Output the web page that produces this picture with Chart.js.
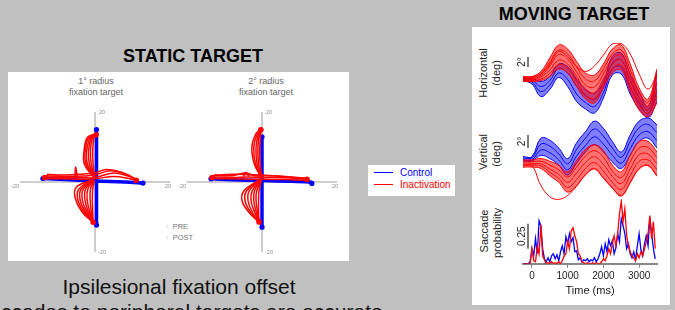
<!DOCTYPE html>
<html>
<head>
<meta charset="utf-8">
<script src="https://cdn.jsdelivr.net/npm/chart.js@4.4.0/dist/chart.umd.min.js"></script>
<style>
body { margin: 0; width: 675px; height: 310px; background: #c0c0c0; overflow: hidden; position: relative;
       font-family: "Liberation Sans", Arial, sans-serif; }
.panel { position: absolute; background: #fff; }
.title { position: absolute; font-weight: bold; font-size: 18px; line-height: 18px; color: #000;
         white-space: nowrap; transform: translateX(-50%); }
.sub { position: absolute; font-size: 9px; line-height: 10.5px; color: #666; text-align: center;
       transform: translateX(-50%); white-space: nowrap; }
.rot { position: absolute; font-size: 11px; line-height: 12px; color: #222; white-space: nowrap;
       transform: translate(-50%, -50%) rotate(-90deg); }
.small { position: absolute; font-size: 7.5px; color: #777; white-space: nowrap; }
.caption { position: absolute; left: 179px; top: 274px; font-size: 21px; line-height: 25px; color: #111;
           white-space: nowrap; transform: translateX(-50%); text-align: center; }
canvas { position: absolute; }
</style>
</head>
<body>

<div class="title" style="left:193px; top:47px;">STATIC TARGET</div>
<div class="title" style="left:574px; top:5px;">MOVING TARGET</div>

<div class="panel" style="left:8px; top:72px; width:341px; height:189px;"></div>
<div class="panel" style="left:472px; top:27px; width:198px; height:278px;"></div>

<div class="sub" style="left:96px; top:76px;">1° radius<br>fixation target</div>
<div class="sub" style="left:266px; top:76px;">2° radius<br>fixation target</div>

<div class="small" style="left:166px; top:222px;">·&nbsp; PRE</div>
<div class="small" style="left:166px; top:233px;">·&nbsp; POST</div>

<!-- legend box between the panels -->
<div class="panel" style="left:368px; top:165px; width:87px; height:31px;"></div>
<div class="panel" style="left:374px; top:172px; width:19px; height:1px; background:#0000ff;"></div>
<div class="panel" style="left:374px; top:184px; width:19px; height:1px; background:#ff0000;"></div>
<div class="small" style="left:400px; top:167px; font-size:10px; color:#0000ff;">Control</div>
<div class="small" style="left:400px; top:179px; font-size:10px; color:#ff0000;">Inactivation</div>

<div class="rot" style="left:483px; top:73px;">Horizontal</div>
<div class="rot" style="left:496px; top:73px;">(deg)</div>
<div class="rot" style="left:483px; top:152px;">Vertical</div>
<div class="rot" style="left:496px; top:154px;">(deg)</div>
<div class="rot" style="left:484px; top:231px;">Saccade</div>
<div class="rot" style="left:497px; top:233px;">probability</div>

<div class="caption">Ipsilesional fixation offset<br>Saccades to peripheral targets are accurate</div>

<canvas id="static1" width="170" height="156" style="left:10px; top:104px;"></canvas>
<canvas id="static2" width="170" height="156" style="left:177px; top:104px;"></canvas>
<canvas id="horiz" width="150" height="80" style="left:510px; top:40px;"></canvas>
<canvas id="vert" width="150" height="88" style="left:510px; top:115px;"></canvas>
<canvas id="sacc" width="158" height="104" style="left:510px; top:196px;"></canvas>

<script>
// ===== STATIC TARGET (x, y in deg) =====
const crossAxisX = [[-20, 0], [20, 0]];
const crossAxisY = [[0, -20], [0, 20]];
const crossTicks = [-20, 20];

// 1 deg radius fixation target
const s1Blue = [
    [[0.4, -12.3], [0.4, 15]],
    [[-13.9, 1.0], [-8, 0.7], [0, 0.3], [8, 0], [12.8, -0.3]]
];
const s1BlueEnds = [[0.4, 15], [0.4, -12.3], [-13.9, 1.0], [12.8, -0.3]];
const s1Red = [
    [[-13.3, 1.4], [-8, 1.3], [-3, 1.2], [0, 1.3], [5, 2.6], [9, 1.6], [11.2, 0.6]],
    [[-13.6, 1.0], [-8, 0.9], [-3, 0.8], [0, 0.9], [5, 1.6], [9, 1.0], [11, 0.4]],
    [[-13, 1.8], [-8, 1.6], [-3, 1.7], [0, 2.0], [4, 3.2], [8, 2.4], [10.8, 0.8]],
    [[-12.8, 2.2], [-8, 2.0], [-3, 2.3], [0, 2.6], [3, 3.6], [7, 2.8], [10.5, 1.0]],
    [[-5.3, 1.2], [-5.2, 4.3], [-4.7, 1.3]],
    [[0, 1], [-0.5, 5], [-0.6, 9], [-0.3, 12.5], [0.3, 13.6]],
    [[0, 1], [-1.0, 5], [-1.2, 9], [-0.7, 12.5], [0.3, 13.6]],
    [[0, 1], [-1.5, 5], [-1.7, 9], [-1.0, 12.5], [0.3, 13.6]],
    [[0, 1], [-2.0, 5], [-2.2, 9], [-1.3, 12.5], [0.3, 13.6]],
    [[0, 1], [-2.4, 5], [-2.6, 9], [-1.7, 12.6], [0.3, 13.7]],
    [[0, 1], [-2.8, 5], [-2.9, 9], [-2.0, 12.8], [0.3, 13.8]],
    [[-0.2, 0.5], [-0.6, -2], [-0.7, -5], [-0.6, -8.5], [-0.5, -11.5]],
    [[-0.2, 0.5], [-1.2, -2], [-1.3, -5], [-1.0, -8.5], [-0.5, -11.5]],
    [[-0.3, 0.5], [-1.9, -2], [-2.1, -5], [-1.4, -8.5], [-0.5, -11.5]],
    [[-0.4, 0.5], [-2.5, -2], [-2.7, -5], [-1.8, -8.5], [-0.5, -11.5]],
    [[-0.5, 0.5], [-3.1, -2], [-3.4, -5], [-2.2, -8.5], [-0.5, -11.5]],
    [[-0.7, 0.5], [-3.7, -2], [-4.0, -5], [-2.6, -8.5], [-0.5, -11.5]],
    [[-0.8, 0.5], [-4.3, -2], [-4.6, -5], [-3.0, -8.5], [-0.5, -11.5]],
    [[-1.0, 0.5], [-5.0, -1.5], [-5.3, -4.5], [-3.5, -8.5], [-0.5, -11.5]]
];
const s1RedEnds = [[0.3, 13.5], [-0.5, -11.5], [-13.4, 1.3], [11, 0.5]];

// 2 deg radius fixation target
const s2Blue = [
    [[0, -12.9], [0, 12.9]],
    [[-13.6, 0.9], [-6, 0.6], [0, 0.4], [8, 0.2], [13.1, 0], [13.6, -0.6]]
];
const s2BlueEnds = [[0, 12.9], [0, -12.9], [-13.6, 0.9], [13.3, -0.4]];
const s2Red = [
    [[-13.3, 1.5], [-8, 1.3], [-4, 1.4], [0, 1.3], [6, 1.2], [12, 0.8]],
    [[-13.0, 1.0], [-8, 0.9], [-3, 0.8], [0, 0.8], [6, 0.7], [11.5, 0.5]],
    [[-12.8, 2.0], [-8, 1.8], [-4.3, 2.6], [-2, 1.8], [3, 1.8], [11.8, 1.1]],
    [[-13.1, 1.8], [-8, 2.2], [-3, 2.1], [0, 2.0], [5, 1.6], [11.6, 1.0]],
    [[-5, 1.5], [-4.3, 2.8], [-3.5, 1.6]],
    [[0, 1], [-0.5, 5], [-0.6, 10], [-0.4, 13.5], [-0.3, 14.9]],
    [[0, 1], [-0.9, 5], [-1.1, 10], [-0.7, 13.5], [-0.3, 14.9]],
    [[0, 1], [-1.3, 5], [-1.6, 10], [-1.0, 13.5], [-0.3, 14.9]],
    [[0, 1], [-1.7, 5], [-2.2, 10], [-1.3, 13.6], [-0.3, 15.0]],
    [[0, 1], [-2.0, 5], [-2.7, 10], [-1.6, 13.8], [-0.3, 15.2]],
    [[-0.2, 0.5], [-0.8, -2.5], [-0.9, -5], [-0.9, -8.5], [-0.8, -11.4]],
    [[-0.2, 0.5], [-1.4, -2.5], [-1.6, -5], [-1.2, -8.5], [-0.8, -11.4]],
    [[-0.3, 0.5], [-2.0, -2.5], [-2.2, -5.3], [-1.5, -8.7], [-0.8, -11.4]],
    [[-0.4, 0.5], [-2.6, -2.5], [-2.9, -5.5], [-1.9, -8.8], [-0.8, -11.4]],
    [[-0.6, 0.5], [-3.4, -2.5], [-3.7, -5.5], [-2.4, -9], [-0.8, -11.4]],
    [[-0.7, 0.5], [-4.1, -2.5], [-4.5, -5.5], [-2.8, -9], [-0.8, -11.4]],
    [[-0.9, 0.5], [-4.8, -2.5], [-5.3, -5.5], [-3.2, -9], [-0.8, -11.4]]
];
const s2RedEnds = [[-0.3, 14.9], [-0.8, -11.4], [-13.3, 1.3], [12, 0.8]];

// ===== MOVING TARGET =====
const traceTimes = [-250, 0, 250, 500, 750, 1000, 1250, 1500, 1750, 2000, 2250, 2500, 2750, 3000, 3250, 3500];

// horizontal eye position (deg)
const horizRed = [
    [0.4, 0.4, 1.0, 3.0, 5.5, 4.5, 2.5, 1.5, 2.6, 4.8, 7.0, 7.1, 5.0, 1.0, -2.0, 1.0],
    [0.5, 0.5, 1.5, 4.2, 6.8, 6.0, 3.5, 1.2, 0.8, 3.0, 6.0, 6.8, 3.0, -1.8, -4.0, 2.0],
    [0.3, 0.3, 1.1, 3.4, 5.8, 5.0, 2.4, 0.0, -0.4, 2.0, 5.0, 5.8, 1.9, -2.7, -4.7, 0.8],
    [0.1, 0.1, 0.7, 2.6, 4.9, 4.0, 1.4, -1.2, -1.6, 1.0, 4.0, 4.8, 0.8, -3.6, -5.4, -0.6],
    [-0.1, -0.1, 0.4, 1.8, 3.8, 3.0, 0.5, -2.2, -2.8, 0.0, 3.0, 3.8, -0.3, -4.4, -6.1, -2.0],
    [-0.3, -0.3, 0.0, 1.1, 2.9, 2.1, -0.5, -3.2, -3.9, -0.9, 2.1, 2.8, -1.4, -5.3, -6.8, -3.4],
    [-0.5, -0.5, -0.3, 0.5, 2.0, 1.2, -1.5, -4.0, -4.8, -1.8, 1.2, 1.8, -2.5, -6.2, -7.5, -4.8]
];
const horizBlue = [
    [0.3, 0.2, -0.5, 0.5, 3.0, 2.5, 0.0, -2.0, -2.8, -0.5, 4.5, 5.2, 1.0, -2.5, -5.5, 1.5],
    [0.1, -0.2, -1.5, -0.3, 2.1, 1.2, -1.5, -3.3, -4.1, -1.6, 3.2, 3.8, -0.3, -3.7, -6.3, -0.5],
    [-0.1, -0.6, -2.5, -1.2, 1.2, -0.1, -3.0, -4.7, -5.5, -2.7, 2.0, 2.4, -1.7, -4.8, -7.0, -2.5],
    [-0.3, -1.0, -3.5, -2.1, 0.3, -1.5, -4.5, -6.0, -6.8, -3.8, 0.8, 1.0, -3.0, -6.0, -7.8, -4.5]
];

// vertical eye position (deg)
const vertRed = [
    [-0.5, -0.5, -3.5, -5.2, -5.6, -5.0, -3.6, -1.9, -1.0, -2.4, -3.9, -5.1, -3.1, -1.0, -0.5, -2.1],
    [0.4, 0.4, 0.6, 0.2, -0.4, -1.4, 0.3, 2.0, 2.7, 1.8, -0.4, -1.4, 1.1, 3.2, 3.2, 1.6],
    [0.1, 0.1, 0.2, -0.4, -1.1, -2.2, -0.7, 1.0, 1.8, 0.8, -1.3, -2.3, 0.1, 2.2, 2.3, 0.7],
    [-0.2, -0.2, -0.2, -1.0, -1.8, -3.0, -1.6, 0.0, 0.9, -0.3, -2.1, -3.2, -1.0, 1.2, 1.3, -0.2],
    [-0.4, -0.4, -0.5, -1.5, -2.4, -3.8, -2.6, -0.9, 0.0, -1.3, -3.0, -4.1, -2.0, 0.2, 0.4, -1.1],
    [-0.7, -0.7, -0.9, -2.0, -3.0, -4.5, -3.5, -1.8, -0.9, -2.3, -3.8, -5.0, -3.0, -0.9, -0.4, -2.0]
];
const vertBlue = [
    [0.9, 0.9, 3.7, 3.4, 2.2, 0.6, 3.0, 4.7, 6.3, 5.2, 3.2, 1.6, 4.2, 6.3, 6.8, 5.7],
    [0.7, 0.7, 2.8, 2.5, 1.3, -0.2, 2.0, 3.7, 5.1, 4.0, 2.2, 0.8, 3.2, 5.3, 5.8, 4.5],
    [0.4, 0.4, 1.9, 1.5, 0.4, -1.1, 1.0, 2.6, 3.9, 2.8, 1.1, -0.1, 2.1, 4.2, 4.7, 3.3],
    [0.2, 0.2, 1.1, 0.6, -0.4, -1.9, -0.1, 1.6, 2.7, 1.6, 0.1, -0.9, 1.1, 3.2, 3.7, 2.2]
];

// saccade probability, 50 ms bins
const sacTimes = [
    -250, -200, -150, -100, -50,
    0, 50, 100, 150, 200, 250, 300, 350, 400, 450,
    500, 550, 600, 650, 700, 750, 800, 850, 900, 950,
    1000, 1050, 1100, 1150, 1200, 1250, 1300, 1350, 1400, 1450,
    1500, 1550, 1600, 1650, 1700, 1750, 1800, 1850, 1900, 1950,
    2000, 2050, 2100, 2150, 2200, 2250, 2300, 2350, 2400, 2450,
    2500, 2550, 2600, 2650, 2700, 2750, 2800, 2850, 2900, 2950,
    3000, 3050, 3100, 3150, 3200, 3250, 3300, 3350, 3400, 3450
];
const sacControl = [
    0, 0, 0, 0, 0.02,
    0.15, 0.08, 0.25, 0.1, 0.43, 0.38, 0.15, 0.05, 0.02, 0.06,
    0.02, 0.08, 0.1, 0.05, 0.09, 0.03, 0.12, 0.18, 0.1, 0.27,
    0.2, 0.3, 0.22, 0.26, 0.12, 0.13, 0.04, 0.06, 0.02, 0.04,
    0.03, 0.05, 0.02, 0.04, 0.03, 0.06, 0.02, 0.05, 0.1, 0.17,
    0.08, 0.2, 0.12, 0.24, 0.18, 0.23, 0.1, 0.16, 0.3, 0.22,
    0.45, 0.38, 0.3, 0.15, 0.2, 0.1, 0.06, 0.12, 0.04, 0.18,
    0.3, 0.14, 0.08, 0.2, 0.28, 0.18, 0.46, 0.3, 0.15, 0.05
];
const sacInactivation = [
    0, 0, 0, 0, 0,
    0.15, 0.03, 0.02, 0.17, 0.1, 0.39, 0.08, 0.04, 0, 0.01,
    0, 0.02, 0, 0.01, 0, 0.02, 0, 0.03, 0.08, 0.1,
    0.22, 0.15, 0.33, 0.36, 0.28, 0.22, 0.1, 0.08, 0.02, 0.01,
    0, 0.01, 0, 0, 0.01, 0, 0.01, 0, 0, 0.02,
    0.05, 0.03, 0.08, 0.15, 0.1, 0.2, 0.28, 0.18, 0.3, 0.5,
    0.62, 0.42, 0.55, 0.28, 0.18, 0.12, 0.08, 0.06, 0.03, 0.1,
    0.06, 0.12, 0.08, 0.15, 0.22, 0.3, 0.48, 0.25, 0.42, 0.15
];
const timeTicks = [0, 1000, 2000, 3000];

const RED = "#ff0000";
const BLUE = "#0000ff";
const FONT = "'Liberation Sans', Arial, sans-serif";

function pts(pairs) {
    return pairs.map(p => ({ x: p[0], y: p[1] }));
}
function series(times, vals) {
    return vals.map((v, i) => ({ x: times[i], y: v }));
}

// tiny -20 / 20 labels at the ends of the cross axes
const crossLabels = {
    id: "crossLabels",
    afterDraw(chart, args, opts) {
        if (!opts.show) return;
        const { ctx, scales: { x, y } } = chart;
        const x0 = x.getPixelForValue(0), y0 = y.getPixelForValue(0);
        const lo = crossTicks[0], hi = crossTicks[1];
        ctx.save();
        ctx.font = "5.5px " + FONT;
        ctx.fillStyle = "#888";
        ctx.textBaseline = "top";
        ctx.textAlign = "right";
        ctx.fillText(String(lo), x.getPixelForValue(lo) - 1, y0 + 2);
        ctx.fillText(String(hi), x.getPixelForValue(hi) + 1, y0 + 2);
        ctx.textAlign = "left";
        ctx.textBaseline = "middle";
        ctx.fillText(String(hi), x0 + 4, y.getPixelForValue(hi));
        ctx.fillText(String(lo), x0 + 3, y.getPixelForValue(lo));
        ctx.restore();
    }
};

// vertical scale bar with rotated label
const scaleBar = {
    id: "scaleBar",
    afterDraw(chart, args, opts) {
        if (!opts.text) return;
        const { ctx, scales: { x, y } } = chart;
        const px = x.getPixelForValue(opts.at);
        const y0 = y.getPixelForValue(opts.from), y1 = y.getPixelForValue(opts.to);
        ctx.save();
        ctx.strokeStyle = "#222";
        ctx.lineWidth = 1.2;
        ctx.beginPath();
        ctx.moveTo(px, y0);
        ctx.lineTo(px, y1);
        ctx.stroke();
        ctx.translate(px - 6, (y0 + y1) / 2);
        ctx.rotate(-Math.PI / 2);
        ctx.font = "10px " + FONT;
        ctx.fillStyle = "#222";
        ctx.textAlign = "center";
        ctx.textBaseline = "middle";
        ctx.fillText(opts.text, 0, 0);
        ctx.restore();
    }
};

Chart.register(crossLabels, scaleBar);

function staticChart(id, red, redEnds, blue, blueEnds) {
    const ds = [];
    ds.push({ data: pts(redEnds), showLine: false, pointRadius: 2.8, pointBackgroundColor: RED, pointBorderWidth: 0 });
    red.forEach(t => ds.push({ data: pts(t), showLine: true, borderColor: RED, borderWidth: 1.5, tension: 0.4, pointRadius: 0 }));
    blue.forEach(t => ds.push({ data: pts(t), showLine: true, borderColor: BLUE, borderWidth: 3.5, tension: 0.3, pointRadius: 0 }));
    ds.push({ data: pts(blueEnds), showLine: false, pointRadius: 2.6, pointBackgroundColor: BLUE, pointBorderWidth: 0 });
    ds.push({ data: pts(crossAxisX), showLine: true, borderColor: "#9a9a9a", borderWidth: 1, pointRadius: 0 });
    ds.push({ data: pts(crossAxisY), showLine: true, borderColor: "#9a9a9a", borderWidth: 1, pointRadius: 0 });

    return new Chart(document.getElementById(id), {
        type: "scatter",
        data: { datasets: ds },
        options: {
            responsive: false,
            animation: false,
            events: [],
            layout: { padding: { left: 10, right: 10, top: 8, bottom: 8 } },
            plugins: { legend: { display: false }, tooltip: { enabled: false }, crossLabels: { show: true } },
            scales: {
                x: { type: "linear", min: -20, max: 20, display: false },
                y: { type: "linear", min: -20, max: 20, display: false }
            }
        }
    });
}

function bandSets(traces, color, fillColor, skipFirst) {
    return traces.map((t, i) => {
        const lone = skipFirst && i === 0;
        const last = i === traces.length - 1;
        return {
            data: series(traceTimes, t),
            borderColor: color,
            borderWidth: 1,
            backgroundColor: fillColor,
            fill: (lone || last) ? false : "+1",
            pointRadius: 0,
            tension: 0.4
        };
    });
}

function traceChart(id, red, blue, yMin, yMax, bar) {
    return new Chart(document.getElementById(id), {
        type: "line",
        data: {
            datasets: bandSets(red, RED, "rgba(255,0,0,0.55)", true)
                .concat(bandSets(blue, BLUE, "rgba(0,0,255,0.5)", false))
        },
        options: {
            responsive: false,
            animation: false,
            events: [],
            layout: { padding: { left: 13, right: 3, top: 3, bottom: 2 } },
            plugins: { legend: { display: false }, tooltip: { enabled: false }, scaleBar: bar },
            scales: {
                x: { type: "linear", min: -250, max: 3500, display: false },
                y: { min: yMin, max: yMax, display: false }
            }
        }
    });
}

staticChart("static1", s1Red, s1RedEnds, s1Blue, s1BlueEnds);
staticChart("static2", s2Red, s2RedEnds, s2Blue, s2BlueEnds);

traceChart("horiz", horizRed, horizBlue, -7.8, 7.2, { at: -110, from: 2.4, to: 4.4, text: "2°" });
traceChart("vert", vertRed, vertBlue, -5.85, 6.77, { at: -110, from: 2.2, to: 4.2, text: "2°" });

new Chart(document.getElementById("sacc"), {
    type: "line",
    data: {
        datasets: [
            { label: "Inactivation", data: series(sacTimes, sacInactivation), borderColor: RED, borderWidth: 1.3, pointRadius: 0, tension: 0 },
            { label: "Control", data: series(sacTimes, sacControl), borderColor: BLUE, borderWidth: 1.3, pointRadius: 0, tension: 0 }
        ]
    },
    options: {
        responsive: false,
        animation: false,
        events: [],
        layout: { padding: { left: 13, right: 11, top: 3, bottom: 2 } },
        plugins: {
            legend: { display: false },
            tooltip: { enabled: false },
            scaleBar: { at: -110, from: 0.15, to: 0.4, text: "0.25" }
        },
        scales: {
            x: {
                type: "linear", min: -250, max: 3500,
                afterBuildTicks: axis => { axis.ticks = timeTicks.map(v => ({ value: v })); },
                grid: { drawOnChartArea: false, drawTicks: true, tickLength: 4, color: "#888" },
                border: { color: "#888", width: 2 },
                ticks: { color: "#222", font: { size: 10, family: FONT }, padding: 2, maxRotation: 0, callback: v => String(v) },
                title: { display: true, text: "Time (ms)", color: "#222", font: { size: 11, family: FONT }, padding: { top: 1, bottom: 0 } }
            },
            y: { min: 0, max: 0.646, display: false }
        }
    }
});
</script>
</body>
</html>
